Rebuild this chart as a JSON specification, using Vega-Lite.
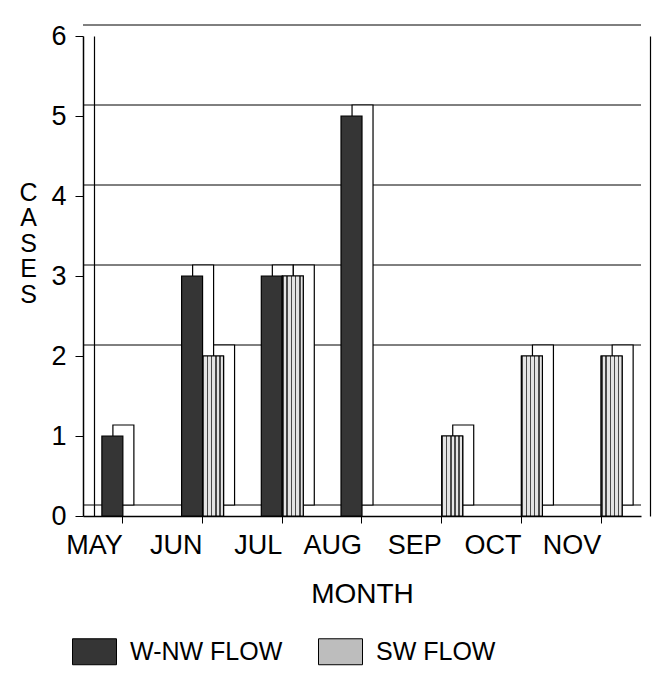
{
  "$schema": "https://vega.github.io/schema/vega-lite/v6.json",
  "width": 558,
  "height": 480,
  "autosize": {"type": "none"},
  "padding": {"left": 83, "top": 36, "right": 26, "bottom": 174},
  "background": "white",
  "config": {
    "view": {"stroke": null},
    "font": "Liberation Sans",
    "axis": {"domainColor": "black", "tickColor": "black", "labelColor": "black", "titleColor": "black", "titleFontWeight": "normal", "grid": false}
  },
  "datasets": {
    "cases": [
      {"month": "MAY", "flow": "W-NW FLOW", "cases": 1},
      {"month": "MAY", "flow": "SW FLOW", "cases": 0},
      {"month": "JUN", "flow": "W-NW FLOW", "cases": 3},
      {"month": "JUN", "flow": "SW FLOW", "cases": 2},
      {"month": "JUL", "flow": "W-NW FLOW", "cases": 3},
      {"month": "JUL", "flow": "SW FLOW", "cases": 3},
      {"month": "AUG", "flow": "W-NW FLOW", "cases": 5},
      {"month": "AUG", "flow": "SW FLOW", "cases": 0},
      {"month": "SEP", "flow": "W-NW FLOW", "cases": 0},
      {"month": "SEP", "flow": "SW FLOW", "cases": 1},
      {"month": "OCT", "flow": "W-NW FLOW", "cases": 0},
      {"month": "OCT", "flow": "SW FLOW", "cases": 2},
      {"month": "NOV", "flow": "W-NW FLOW", "cases": 0},
      {"month": "NOV", "flow": "SW FLOW", "cases": 2}
    ],
    "grid": [{"level": 0}, {"level": 2}, {"level": 3}, {"level": 4}, {"level": 5}, {"level": 6}]
  },
  "resolve": {"scale": {"xOffset": "independent"}},
  "layer": [
    {
      "data": {"name": "grid"},
      "mark": {"type": "rule", "color": "black", "strokeWidth": 1, "yOffset": -11},
      "encoding": {
        "y": {"field": "level", "type": "quantitative", "scale": {"domain": [0, 6], "nice": false},
          "axis": {"orient": "right", "labels": false, "ticks": false, "title": null, "domain": true, "offset": 9, "domainWidth": 1.2}}
      }
    },
    {
      "data": {"name": "cases"},
      "transform": [{"filter": "datum.cases > 0"}],
      "mark": {"type": "bar", "fill": "white", "stroke": "black", "strokeWidth": 1.2, "yOffset": -11, "y2Offset": -11},
      "encoding": {
        "x": {"field": "month", "type": "nominal", "scale": {"domain": ["MAY", "JUN", "JUL", "AUG", "SEP", "OCT", "NOV"], "paddingInner": 0, "paddingOuter": 0}},
        "xOffset": {"field": "flow", "type": "nominal", "scale": {"domain": ["W-NW FLOW", "SW FLOW"], "paddingInner": 0, "paddingOuter": 0.9, "align": 0.792}},
        "y": {"field": "cases", "type": "quantitative",
          "axis": {"orient": "left", "labels": false, "ticks": false, "title": null, "domain": true, "offset": -11, "domainWidth": 1.2}}
      }
    },
    {
      "data": {"name": "cases"},
      "transform": [{"filter": "datum.cases > 0"}],
      "mark": {"type": "bar", "stroke": "black", "strokeWidth": 1.2, "opacity": 1},
      "encoding": {
        "x": {"field": "month", "type": "nominal", "scale": {"domain": ["MAY", "JUN", "JUL", "AUG", "SEP", "OCT", "NOV"], "paddingInner": 0, "paddingOuter": 0},
          "axis": {"title": "MONTH", "labelAngle": 0, "labelFontSize": 27, "titleFontSize": 28, "tickSize": 7, "labelPadding": 22, "titlePadding": 22, "domainWidth": 1.5}},
        "xOffset": {"field": "flow", "type": "nominal", "scale": {"domain": ["W-NW FLOW", "SW FLOW"], "paddingInner": 0, "paddingOuter": 0.9, "align": 0.5}},
        "y": {"field": "cases", "type": "quantitative", "scale": {"domain": [0, 6], "nice": false},
          "axis": {"orient": "left", "values": [0, 1, 2, 3, 4, 5, 6], "labelFontSize": 27, "tickSize": 8, "labelPadding": 9, "domainWidth": 1.5,
            "title": ["C", "A", "S", "E", "S"], "titleAngle": 0, "titleAlign": "center", "titleBaseline": "top", "titleX": -55, "titleY": 144, "titleLineHeight": 25.5, "titleFontSize": 25}},
        "color": {"field": "flow", "type": "nominal",
          "scale": {"domain": ["W-NW FLOW", "SW FLOW"], "range": ["#353535", "#bdbdbd"]},
          "legend": {"orient": "none", "legendX": -11, "legendY": 593, "direction": "horizontal", "title": null, "padding": 0,
            "symbolType": "M-1,-0.59H1V0.59H-1Z", "symbolSize": 1936, "symbolStrokeColor": "black", "symbolStrokeWidth": 1, "symbolOpacity": 1,
            "labelFontSize": 25, "labelColor": "black", "labelOffset": 13, "columnPadding": 33}}
      }
    },
    {
      "data": {"name": "cases"},
      "transform": [{"filter": "datum.cases > 0 && datum.flow === 'SW FLOW'"}],
      "mark": {"type": "bar", "stroke": "black", "strokeWidth": 1.2, "opacity": 1,
        "fill": {"gradient": "linear", "x1": 0, "y1": 0, "x2": 1, "y2": 0, "stops": [
            {"offset": 0, "color": "#4a4a4a"}, {"offset": 0.07, "color": "#4a4a4a"}, {"offset": 0.07, "color": "#e4e4e4"}, {"offset": 0.2, "color": "#e4e4e4"},
            {"offset": 0.2, "color": "#4a4a4a"}, {"offset": 0.27, "color": "#4a4a4a"}, {"offset": 0.27, "color": "#e4e4e4"}, {"offset": 0.4, "color": "#e4e4e4"},
            {"offset": 0.4, "color": "#4a4a4a"}, {"offset": 0.47, "color": "#4a4a4a"}, {"offset": 0.47, "color": "#e4e4e4"}, {"offset": 0.6, "color": "#e4e4e4"},
            {"offset": 0.6, "color": "#4a4a4a"}, {"offset": 0.67, "color": "#4a4a4a"}, {"offset": 0.67, "color": "#e4e4e4"}, {"offset": 0.8, "color": "#e4e4e4"},
            {"offset": 0.8, "color": "#4a4a4a"}, {"offset": 0.87, "color": "#4a4a4a"}, {"offset": 0.87, "color": "#e4e4e4"}, {"offset": 1, "color": "#e4e4e4"}]}},
      "encoding": {
        "x": {"field": "month", "type": "nominal", "scale": {"domain": ["MAY", "JUN", "JUL", "AUG", "SEP", "OCT", "NOV"], "paddingInner": 0, "paddingOuter": 0}},
        "xOffset": {"field": "flow", "type": "nominal", "scale": {"domain": ["W-NW FLOW", "SW FLOW"], "paddingInner": 0, "paddingOuter": 0.9, "align": 0.5}},
        "y": {"field": "cases", "type": "quantitative", "axis": null}
      }
    }
  ]
}
